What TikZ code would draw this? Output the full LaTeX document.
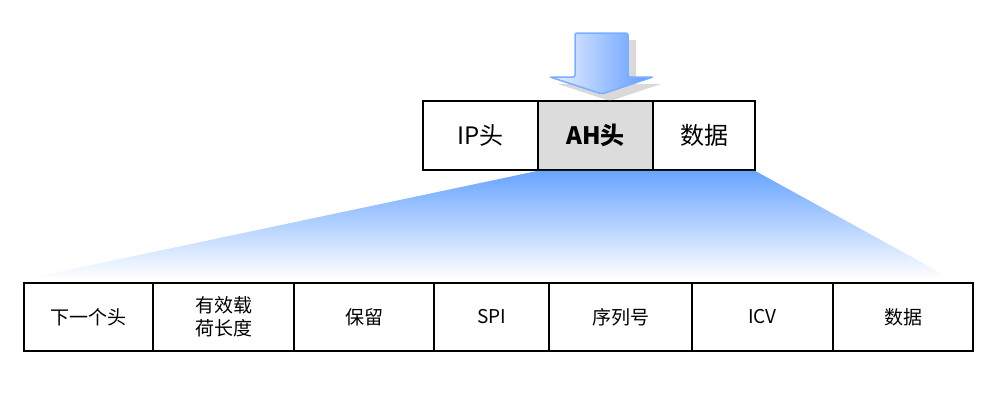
\documentclass[tikz,border=0pt]{standalone}
\usepackage{fontspec}
\setmainfont{Noto Sans CJK SC}
\usetikzlibrary{positioning}
\definecolor{fanblue}{RGB}{104,164,255}
\definecolor{arrowblue}{RGB}{92,152,255}
\definecolor{arrowline}{RGB}{120,175,255}
\definecolor{ahgray}{RGB}{220,220,220}
\tikzset{
  field/.style={draw, line width=0.75pt, outer sep=0pt, inner sep=0pt, minimum height=34.5pt, font=\fontsize{12}{14}\selectfont},
  bitfield/.style={draw, line width=0.75pt, outer sep=0pt, inner sep=0pt, minimum height=34pt, align=center, font=\fontsize{9.5}{11.5}\selectfont},
}
\begin{document}
\begin{tikzpicture}[x=0.5pt, y=-0.5pt]
	\useasboundingbox (0,0) rectangle (1003,408);
	% Gói IP có AH
	\node[field, minimum width=57.5pt] (ip) at (480.5,135.5) {IP头};
	\node[field, minimum width=57.5pt, fill=ahgray, font=\fontsize{12}{14}\selectfont\bfseries, right=0pt of ip] (ah) {AH头};
	\node[field, minimum width=51pt, right=0pt of ah] (dtop) {数据};
	
	% Mũi tên chỉ xuống
	\fill[gray, opacity=0.3] (583,40) -- (636,40) -- (636,84) -- (661,84) -- (610,101) -- (558,84) -- (583,84) -- cycle;
	\shade[left color=arrowblue!12, right color=arrowblue, draw=arrowline, line width=0.75pt, rounded corners=1pt]
		(575,33) -- (628,33) -- (628,77) -- (653,77) -- (602,94) -- (550,77) -- (575,77) -- cycle;
	
	% Các trường của phần đầu AH
	\node[bitfield, minimum width=64.5pt, anchor=west] (next) at (24,317) {下一个头};
	\node[bitfield, minimum width=70.5pt, right=0pt of next] (len) {有效载\\荷长度};
	\node[bitfield, minimum width=70pt, right=0pt of len] (rsv) {保留};
	\node[bitfield, minimum width=57.5pt, right=0pt of rsv] (spi) {SPI};
	\node[bitfield, minimum width=71.5pt, right=0pt of spi] (seq) {序列号};
	\node[bitfield, minimum width=70.5pt, right=0pt of seq] (icv) {ICV};
	\node[bitfield, minimum width=70pt, right=0pt of icv] (data) {数据};
	
	% Vùng mở rộng màu xanh
	\shade[top color=fanblue, middle color=fanblue!42, bottom color=white]
		([yshift=-0.4pt]ah.south west) -- ([yshift=-0.4pt]dtop.south east) -- (950,278) -- (30,278) -- cycle;
\end{tikzpicture}
\end{document}
